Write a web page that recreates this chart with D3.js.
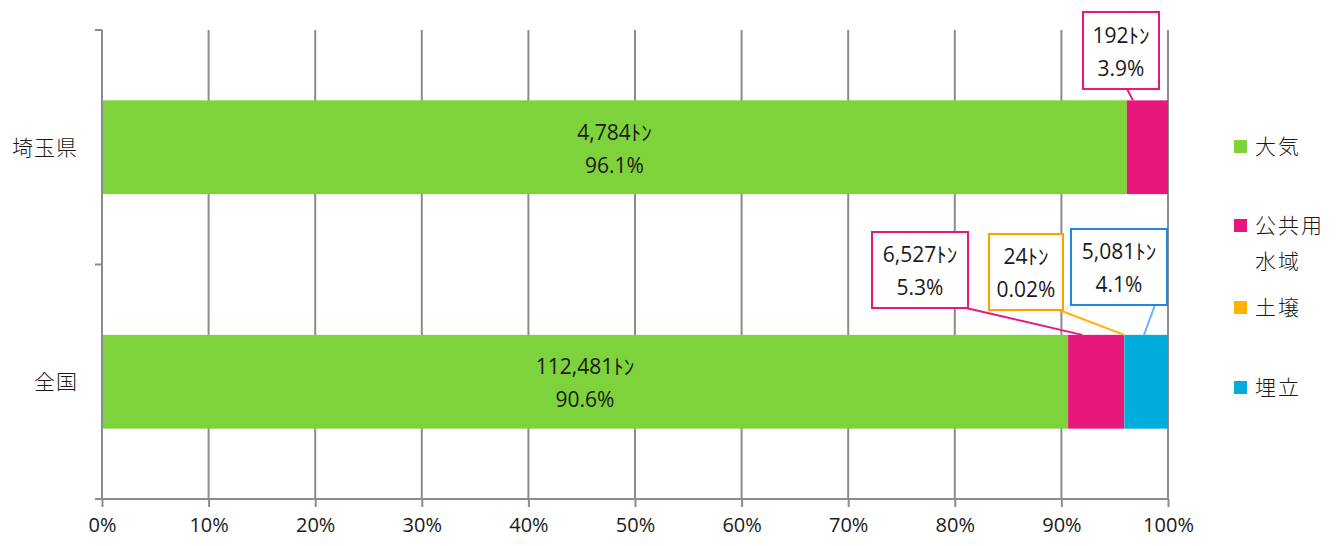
<!DOCTYPE html>
<html>
<head>
<meta charset="utf-8">
<script src="https://cdn.jsdelivr.net/npm/d3@7"></script>
<style>
  body { margin: 0; background: #fff; }
  text { font-family: "Open Sans", "Noto Sans CJK JP", sans-serif; fill: #1a1a1a; }
  .jp { font-family: "Noto Sans CJK JP", sans-serif; font-weight: 300; }
</style>
</head>
<body>
<svg id="chart" width="1341" height="546"></svg>
<script>
// categories (top to bottom) and series
var regions = ['埼玉県', '全国'];
var media = ['大気', '公共用水域', '土壌', '埋立'];
var mediaLegend = [['大気'], ['公共用', '水域'], ['土壌'], ['埋立']];
var colors = ['#7ed23b', '#e8177b', '#ffb300', '#00addc'];

// tonnes per region, same order as media
var tonsSaitama = [4784, 192, 0, 0];
var tonsZenkoku = [112481, 6527, 24, 5081];
var pctSaitama = ['96.1%', '3.9%', '', ''];
var pctZenkoku = ['90.6%', '5.3%', '0.02%', '4.1%'];
var xTicks = [0, 0.1, 0.2, 0.3, 0.4, 0.5, 0.6, 0.7, 0.8, 0.9, 1];

function drawChart() {
    var svg = d3.select('#chart');
    var mLeft = 102, mRight = 1168, mTop = 30, mBottom = 499;

    var x = d3.scaleLinear().domain([0, 1]).range([mLeft, mRight]);
    var y = d3.scaleBand().domain(regions).range([mTop, mBottom]).paddingInner(0.6).paddingOuter(0.3);
    var yEdges = d3.scaleBand().domain(regions).range([mTop, mBottom]);

    // build rows and stack them as shares of 100%
    var rows = [tonsSaitama, tonsZenkoku].map(function(t, i) {
        var r = {region: regions[i]};
        media.forEach(function(m, j) { r[m] = t[j]; });
        return r;
    });
    var pcts = [pctSaitama, pctZenkoku];
    var stack = d3.stack().keys(media).offset(d3.stackOffsetExpand)(rows);

    var grid = '#8c8c8c';

    // vertical gridlines
    svg.append('g').selectAll('line')
        .data(xTicks.slice(1)).enter().append('line')
        .attr('x1', function(d){ return x(d); })
        .attr('x2', function(d){ return x(d); })
        .attr('y1', mTop).attr('y2', mBottom)
        .attr('stroke', grid).attr('stroke-width', 2);

    // bars
    var layers = svg.append('g').selectAll('g')
        .data(stack).enter().append('g')
        .attr('fill', function(d, i){ return colors[i]; });
    layers.selectAll('rect')
        .data(function(d){ return d; }).enter().append('rect')
        .attr('x', function(d){ return x(d[0]); })
        .attr('width', function(d){ return x(d[1]) - x(d[0]); })
        .attr('y', function(d){ return y(d.data.region); })
        .attr('height', y.bandwidth());

    // x axis
    var xAxis = d3.axisBottom(x).tickValues(xTicks).tickFormat(d3.format('.0%')).tickSize(8).tickPadding(11);
    var gx = svg.append('g').attr('transform', 'translate(0,' + mBottom + ')').call(xAxis);
    gx.select('.domain').attr('stroke', grid).attr('stroke-width', 2).attr('d', 'M' + mLeft + ',0H' + mRight);
    gx.selectAll('.tick line').attr('stroke', grid).attr('stroke-width', 2);
    gx.selectAll('.tick text').attr('font-size', 20).attr('fill', '#1a1a1a').attr('font-family', 'Open Sans');

    // y axis: line with ticks at category boundaries
    svg.append('line').attr('x1', mLeft).attr('x2', mLeft).attr('y1', mTop).attr('y2', mBottom)
        .attr('stroke', grid).attr('stroke-width', 2);
    svg.append('g').selectAll('line')
        .data([mTop, mTop + yEdges.step(), mBottom]).enter().append('line')
        .attr('x1', mLeft - 7).attr('x2', mLeft).attr('y1', function(d){ return d; }).attr('y2', function(d){ return d; })
        .attr('stroke', grid).attr('stroke-width', 2);
    svg.append('g').selectAll('text')
        .data(regions).enter().append('text')
        .attr('class', 'jp')
        .attr('x', 78).attr('y', function(d){ return y(d) + y.bandwidth() / 2; })
        .attr('dy', '0.35em').attr('text-anchor', 'end')
        .attr('font-size', 21).attr('letter-spacing', 1)
        .text(function(d){ return d; });

    // labels inside the large (大気) segments
    var fmt = d3.format(',');
    var bigLabels = svg.append('g');
    stack[0].forEach(function(d, i) {
        var cx = (x(d[0]) + x(d[1])) / 2, cy = y(d.data.region) + y.bandwidth() / 2;
        var t = bigLabels.append('text').attr('text-anchor', 'middle').attr('font-size', 21);
        t.append('tspan').attr('x', cx).attr('y', cy - 15).attr('dy', '0.35em').text(fmt(d.data['大気']) + 'ﾄﾝ');
        t.append('tspan').attr('x', cx).attr('y', cy + 18).attr('dy', '0.35em').text(pcts[i][0]);
    });

    // callouts for small segments: [row, series, box x, box y, box w, box h, border, leader, leader start x, anchor dx]
    var callouts = [
        [0, 1, 1083, 12, 76, 77, '#e8177b', '#e8177b', 1127, 0.15],
        [1, 1, 872, 232, 96, 76, '#e8177b', '#e8177b', 966, 0.25],
        [1, 2, 989, 234, 74, 76, '#ffa000', '#ffb300', 1059, 0.5],
        [1, 3, 1071, 229, 96, 76, '#1e88e5', '#66b3ff', 1155, 0.45]
    ];
    var tons = [tonsSaitama, tonsZenkoku];
    var cg = svg.append('g');
    callouts.forEach(function(c) {
        var seg = stack[c[1]][c[0]];
        var ax = x(seg[0]) + (x(seg[1]) - x(seg[0])) * c[9];
        var ay = y(regions[c[0]]);
        var bx = c[2], by = c[3], bw = c[4], bh = c[5];
        cg.append('line').attr('x1', c[8]).attr('y1', by + bh).attr('x2', ax).attr('y2', ay)
            .attr('stroke', c[7]).attr('stroke-width', 2);
        cg.append('rect').attr('x', bx).attr('y', by).attr('width', bw).attr('height', bh)
            .attr('fill', '#fff').attr('stroke', c[6]).attr('stroke-width', 2);
        var t = cg.append('text').attr('text-anchor', 'middle').attr('font-size', 21);
        t.append('tspan').attr('x', bx + bw / 2).attr('y', by + bh / 2 - 15).attr('dy', '0.35em')
            .text(fmt(tons[c[0]][c[1]]) + 'ﾄﾝ');
        t.append('tspan').attr('x', bx + bw / 2).attr('y', by + bh / 2 + 18).attr('dy', '0.35em')
            .text(pcts[c[0]][c[1]]);
    });

    // legend
    var legendY = [147, 226, 308, 388];
    var lg = svg.append('g');
    mediaLegend.forEach(function(lines, i) {
        lg.append('rect').attr('x', 1234).attr('y', legendY[i] - 7).attr('width', 13).attr('height', 13)
            .attr('fill', colors[i]);
        lines.forEach(function(s, k) {
            lg.append('text').attr('class', 'jp').attr('x', 1255).attr('y', legendY[i] + k * 36).attr('dy', '0.35em')
                .attr('font-size', 21).attr('letter-spacing', 2).text(s);
        });
    });
}

drawChart();
</script>
</body>
</html>
